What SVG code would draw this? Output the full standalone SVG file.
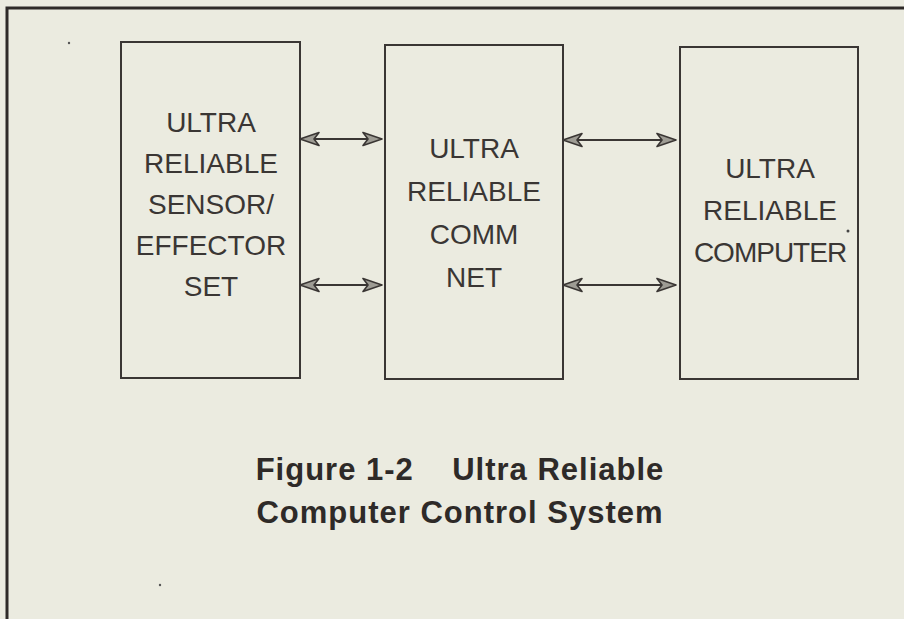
<svg xmlns="http://www.w3.org/2000/svg" width="904" height="619" viewBox="0 0 904 619">
<defs>
<style>
.box{fill:none;stroke:#3a3634;stroke-width:2}
.lbl{font-family:"Liberation Sans",Arial,sans-serif;font-size:28px;fill:#3a3634;text-anchor:middle}
.cap{font-family:"Liberation Sans",Arial,sans-serif;font-weight:bold;font-size:31px;fill:#2e2a28;text-anchor:middle;letter-spacing:1px}
.conn{stroke:#3a3634;stroke-width:2;fill:none;marker-start:url(#ah);marker-end:url(#ah)}
</style>
<marker id="ah" viewBox="0 0 21 16" refX="20" refY="8" markerWidth="21" markerHeight="16" markerUnits="userSpaceOnUse" orient="auto-start-reverse">
<path d="M1,1.5 L20,8 L1,14.5 L6,8 Z" fill="#9e9c94" stroke="#3a3634" stroke-width="1.6" stroke-linejoin="round"/>
</marker>
</defs>
<rect width="904" height="619" fill="#ebebe0"/>
<path d="M7,619 V8 H904" fill="none" stroke="#2e2a28" stroke-width="3"/>
<g id="sensor">
<rect class="box" x="121" y="42" width="179" height="336"/>
<text class="lbl" x="211" y="132">ULTRA</text>
<text class="lbl" x="211" y="173">RELIABLE</text>
<text class="lbl" x="211" y="214">SENSOR/</text>
<text class="lbl" x="211" y="255">EFFECTOR</text>
<text class="lbl" x="211" y="296">SET</text>
</g>
<g id="commnet">
<rect class="box" x="385" y="45" width="178" height="334"/>
<text class="lbl" x="474" y="158">ULTRA</text>
<text class="lbl" x="474" y="201">RELIABLE</text>
<text class="lbl" x="474" y="244">COMM</text>
<text class="lbl" x="474" y="287">NET</text>
</g>
<g id="computer">
<rect class="box" x="680" y="47" width="178" height="332"/>
<text class="lbl" x="770" y="178">ULTRA</text>
<text class="lbl" x="770" y="220">RELIABLE</text>
<text class="lbl" x="770" y="262" letter-spacing="-1">COMPUTER</text>
</g>
<g id="connectors">
<line class="conn" x1="300" y1="139" x2="382" y2="139"/>
<line class="conn" x1="300" y1="285" x2="382" y2="285"/>
<line class="conn" x1="563" y1="140" x2="676" y2="140"/>
<line class="conn" x1="563" y1="285" x2="676" y2="285"/>
</g>
<g id="caption">
<text class="cap" x="460" y="480" xml:space="preserve">Figure 1-2    Ultra Reliable</text>
<text class="cap" x="460" y="523">Computer Control System</text>
</g>
<circle cx="69" cy="43" r="1.2" fill="#555"/>
<circle cx="848" cy="231" r="1.5" fill="#444"/>
<circle cx="160" cy="585" r="1.2" fill="#555"/>
</svg>
